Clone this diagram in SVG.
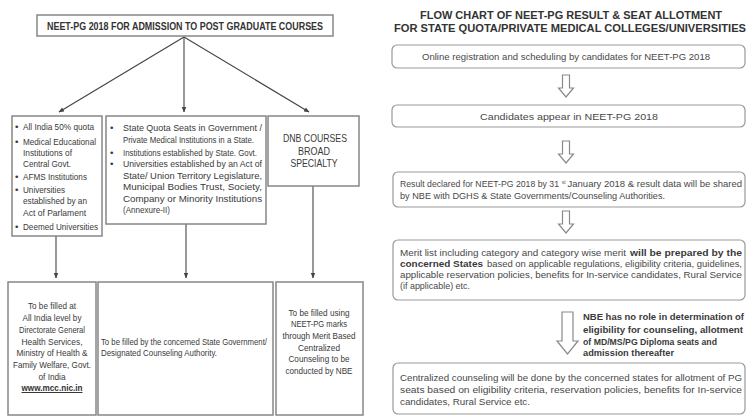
<svg xmlns="http://www.w3.org/2000/svg" width="750" height="420" viewBox="0 0 750 420">
<defs>
<style>
.lt{font-family:"Liberation Sans Narrow","Liberation Sans",Arial,sans-serif;font-size:9.8px;fill:#3a3a3a}
.lb{font-family:"Liberation Sans Narrow","Liberation Sans",Arial,sans-serif;font-size:9.8px;font-weight:bold;fill:#333}
.rt{font-family:"Liberation Sans",Arial,sans-serif;font-size:9.3px;fill:#484848}
.rb{font-family:"Liberation Sans",Arial,sans-serif;font-size:9.3px;font-weight:bold;fill:#3a3a3a}
.tt{font-family:"Liberation Sans",Arial,sans-serif;font-size:11.3px;font-weight:bold;fill:#333}
.box{fill:#fff;stroke:#878787;stroke-width:1.5}
.rbox{fill:#fff;stroke:#999;stroke-width:1.2}
.ha{fill:#fff;stroke:#8a8a8a;stroke-width:1.2}
.ln{stroke:#444;stroke-width:1.1;fill:none}
.mid{text-anchor:middle}
</style>
<marker id="ah" viewBox="0 0 10 10" refX="9" refY="5" markerWidth="5" markerHeight="5" orient="auto">
<path d="M0,1 L10,5 L0,9 Z" fill="#444"/>
</marker>
</defs>
<rect width="750" height="420" fill="#fff"/>

<g id="connectors">
<line class="ln" x1="184" y1="37" x2="59" y2="112" marker-end="url(#ah)"/>
<line class="ln" x1="184" y1="37" x2="184" y2="112" marker-end="url(#ah)"/>
<line class="ln" x1="184" y1="37" x2="309" y2="112" marker-end="url(#ah)"/>
<line class="ln" x1="56" y1="236" x2="56" y2="278" marker-end="url(#ah)"/>
<line class="ln" x1="186" y1="224" x2="186" y2="278" marker-end="url(#ah)"/>
<line class="ln" x1="313" y1="186" x2="313" y2="278" marker-end="url(#ah)"/>
<path class="ha" d="M562.5,75 H569.5 V88 H573.5 L566,97 L558.5,88 H562.5 Z"/>
<path class="ha" d="M562.5,141 H569.5 V154 H573.5 L566,163 L558.5,154 H562.5 Z"/>
<path class="ha" d="M562.5,211 H569.5 V224 H573.5 L566,233 L558.5,224 H562.5 Z"/>
<path class="ha" d="M562,312 H573 V341 H578 L567.5,354 L557,341 H562 Z"/>
</g>

<g id="top">
<rect class="box" x="37" y="15" width="296" height="21"/>
<text class="lb" x="185" y="29.5" text-anchor="middle" textLength="276" lengthAdjust="spacingAndGlyphs" style="font-size:10.5px">NEET-PG 2018 FOR ADMISSION TO POST GRADUATE COURSES</text>
</g>

<g id="allindia">
<rect class="box" x="12" y="116" width="90" height="120"/>
<g class="lt">
<text x="15" y="130">•</text><text x="23" y="130" textLength="71" lengthAdjust="spacingAndGlyphs">All India 50% quota</text>
<text x="15" y="145">•</text><text x="23" y="145" textLength="73" lengthAdjust="spacingAndGlyphs">Medical Educational</text>
<text x="23" y="156" textLength="49" lengthAdjust="spacingAndGlyphs">Institutions of</text>
<text x="23" y="167" textLength="48" lengthAdjust="spacingAndGlyphs">Central Govt.</text>
<text x="15" y="180">•</text><text x="23" y="180" textLength="64" lengthAdjust="spacingAndGlyphs">AFMS Institutions</text>
<text x="15" y="193">•</text><text x="23" y="193" textLength="42" lengthAdjust="spacingAndGlyphs">Universities</text>
<text x="23" y="204" textLength="64" lengthAdjust="spacingAndGlyphs">established by an</text>
<text x="23" y="216" textLength="63" lengthAdjust="spacingAndGlyphs">Act of Parlament</text>
<text x="15" y="230">•</text><text x="23" y="230" textLength="75" lengthAdjust="spacingAndGlyphs">Deemed Universities</text>
</g>
</g>

<g id="statequota">
<rect class="box" x="106" y="116" width="160" height="108"/>
<g class="lt">
<text x="110" y="131">•</text><text x="123" y="131" textLength="139" lengthAdjust="spacingAndGlyphs">State Quota Seats in Government /</text>
<text x="123" y="143" textLength="131" lengthAdjust="spacingAndGlyphs">Private Medical Institutions in a State.</text>
<text x="110" y="156">•</text><text x="123" y="156" textLength="134" lengthAdjust="spacingAndGlyphs">Institutions established by State. Govt.</text>
<text x="110" y="167">•</text><text x="123" y="167" textLength="139" lengthAdjust="spacingAndGlyphs">Universities established by an Act of</text>
<text x="123" y="179" textLength="139" lengthAdjust="spacingAndGlyphs">State/ Union Territory Legislature,</text>
<text x="123" y="190" textLength="139" lengthAdjust="spacingAndGlyphs">Municipal Bodies Trust, Society,</text>
<text x="123" y="202" textLength="139" lengthAdjust="spacingAndGlyphs">Company or Minority Institutions</text>
<text x="123" y="213" textLength="47" lengthAdjust="spacingAndGlyphs">(Annexure-II)</text>
</g>
</g>

<g id="dnb">
<rect class="box" x="268" y="116" width="91" height="70"/>
<g class="lt" style="font-size:11px">
<text x="315" y="142" class="mid" textLength="64" lengthAdjust="spacingAndGlyphs">DNB COURSES</text>
<text x="314" y="155" class="mid" textLength="32" lengthAdjust="spacingAndGlyphs">BROAD</text>
<text x="314" y="167" class="mid" textLength="47" lengthAdjust="spacingAndGlyphs">SPECIALTY</text>
</g>
</g>

<g id="dghs">
<rect class="box" x="8" y="282" width="88" height="133"/>
<g class="lt mid">
<text x="52" y="308.5" textLength="48" lengthAdjust="spacingAndGlyphs">To be filled at</text>
<text x="52" y="320.5" textLength="59" lengthAdjust="spacingAndGlyphs">All India level by</text>
<text x="52" y="332.5" textLength="66" lengthAdjust="spacingAndGlyphs">Directorate General</text>
<text x="52" y="344.5" textLength="61" lengthAdjust="spacingAndGlyphs">Health Services,</text>
<text x="52" y="356" textLength="71" lengthAdjust="spacingAndGlyphs">Ministry of Health &amp;</text>
<text x="52" y="367.5" textLength="78" lengthAdjust="spacingAndGlyphs">Family Welfare, Govt.</text>
<text x="52" y="379.5" textLength="27" lengthAdjust="spacingAndGlyphs">of India</text>
</g>
<text class="lb mid" x="52" y="391" textLength="61" lengthAdjust="spacingAndGlyphs" text-decoration="underline">www.mcc.nic.in</text>
</g>

<g id="stategov">
<rect class="box" x="98" y="282" width="175" height="133"/>
<g class="lt" transform="scale(0.8,1)">
<text x="126.25" y="345.5" textLength="207.5" lengthAdjust="spacingAndGlyphs">To be filled by the concerned State Government/</text>
<text x="126.25" y="356.5" textLength="145" lengthAdjust="spacingAndGlyphs">Designated Counseling Authority.</text>
</g>
</g>

<g id="nbecounsel">
<rect class="box" x="276" y="282" width="87" height="133"/>
<g class="lt mid">
<text x="319" y="315.5" textLength="61" lengthAdjust="spacingAndGlyphs">To be filled using</text>
<text x="319" y="326.5" textLength="56" lengthAdjust="spacingAndGlyphs">NEET-PG marks</text>
<text x="319" y="338.5" textLength="73" lengthAdjust="spacingAndGlyphs">through Merit Based</text>
<text x="319" y="350.5" textLength="42" lengthAdjust="spacingAndGlyphs">Centralized</text>
<text x="319" y="361.5" textLength="61" lengthAdjust="spacingAndGlyphs">Counseling to be</text>
<text x="319" y="373.5" textLength="67" lengthAdjust="spacingAndGlyphs">conducted by NBE</text>
</g>
</g>

<g id="title">
<text class="tt mid" x="571" y="19" textLength="302" lengthAdjust="spacingAndGlyphs">FLOW CHART OF NEET-PG RESULT &amp; SEAT ALLOTMENT</text>
<text class="tt mid" x="570" y="31.5" textLength="352" lengthAdjust="spacingAndGlyphs">FOR STATE QUOTA/PRIVATE MEDICAL COLLEGES/UNIVERSITIES</text>
</g>

<g id="registration">
<rect class="rbox" x="392" y="45" width="353" height="23" rx="5"/>
<text class="rt mid" x="566" y="59.5" textLength="288" lengthAdjust="spacingAndGlyphs">Online registration and scheduling by candidates for NEET-PG 2018</text>
</g>

<g id="appear">
<rect class="rbox" x="392" y="105" width="353" height="22" rx="5"/>
<text class="rt mid" x="569" y="119.5" textLength="178" lengthAdjust="spacingAndGlyphs">Candidates appear in NEET-PG 2018</text>
</g>

<g id="result">
<rect class="rbox" x="393" y="172" width="352" height="35" rx="5"/>
<g transform="translate(400,0) scale(0.935,1)">
<text class="rt" x="0" y="187">Result declared for NEET-PG 2018 by 31</text>
</g>
<text class="rt" x="562" y="183.5" style="font-size:4.5px">st</text>
<text class="rt" x="567.5" y="187" textLength="174.5" lengthAdjust="spacingAndGlyphs">January 2018 &amp; result data will be shared</text>
<text class="rt" x="400" y="199" textLength="265" lengthAdjust="spacingAndGlyphs">by NBE with DGHS &amp; State Governments/Counseling Authorities.</text>
</g>

<g id="merit">
<rect class="rbox" x="393" y="240" width="352" height="60" rx="5"/>
<text class="rt" x="400" y="256" textLength="226" lengthAdjust="spacingAndGlyphs">Merit list including category and category wise merit</text>
<text class="rb" x="630" y="256" textLength="112" lengthAdjust="spacingAndGlyphs">will be prepared by the</text>
<text class="rb" x="400" y="267" textLength="83" lengthAdjust="spacingAndGlyphs">concerned States</text>
<text class="rt" x="487" y="267" textLength="255" lengthAdjust="spacingAndGlyphs">based on applicable regulations, eligibility criteria, guidelines,</text>
<text class="rt" x="400" y="278" textLength="342" lengthAdjust="spacingAndGlyphs">applicable reservation policies, benefits for In-service candidates, Rural Service</text>
<text class="rt" x="400" y="289" textLength="70" lengthAdjust="spacingAndGlyphs">(if applicable) etc.</text>
</g>

<g id="nbenote">
<text class="rb" x="583" y="320" textLength="161" lengthAdjust="spacingAndGlyphs">NBE has no role in determination of</text>
<text class="rb" x="583" y="333" textLength="160" lengthAdjust="spacingAndGlyphs">eligibility for counseling, allotment</text>
<text class="rb" x="583" y="344.5" textLength="134" lengthAdjust="spacingAndGlyphs">of MD/MS/PG Diploma seats and</text>
<text class="rb" x="583" y="355.5" textLength="91" lengthAdjust="spacingAndGlyphs">admission thereafter</text>
</g>

<g id="centralized">
<rect class="rbox" x="393" y="363" width="352" height="51" rx="5"/>
<text class="rt" x="400" y="381" textLength="342" lengthAdjust="spacingAndGlyphs">Centralized counseling will be done by the concerned states for allotment of PG</text>
<text class="rt" x="400" y="393" textLength="342" lengthAdjust="spacingAndGlyphs">seats based on eligibility criteria, reservation policies, benefits for In-service</text>
<text class="rt" x="400" y="405" textLength="130" lengthAdjust="spacingAndGlyphs">candidates, Rural Service etc.</text>
</g>
</svg>
